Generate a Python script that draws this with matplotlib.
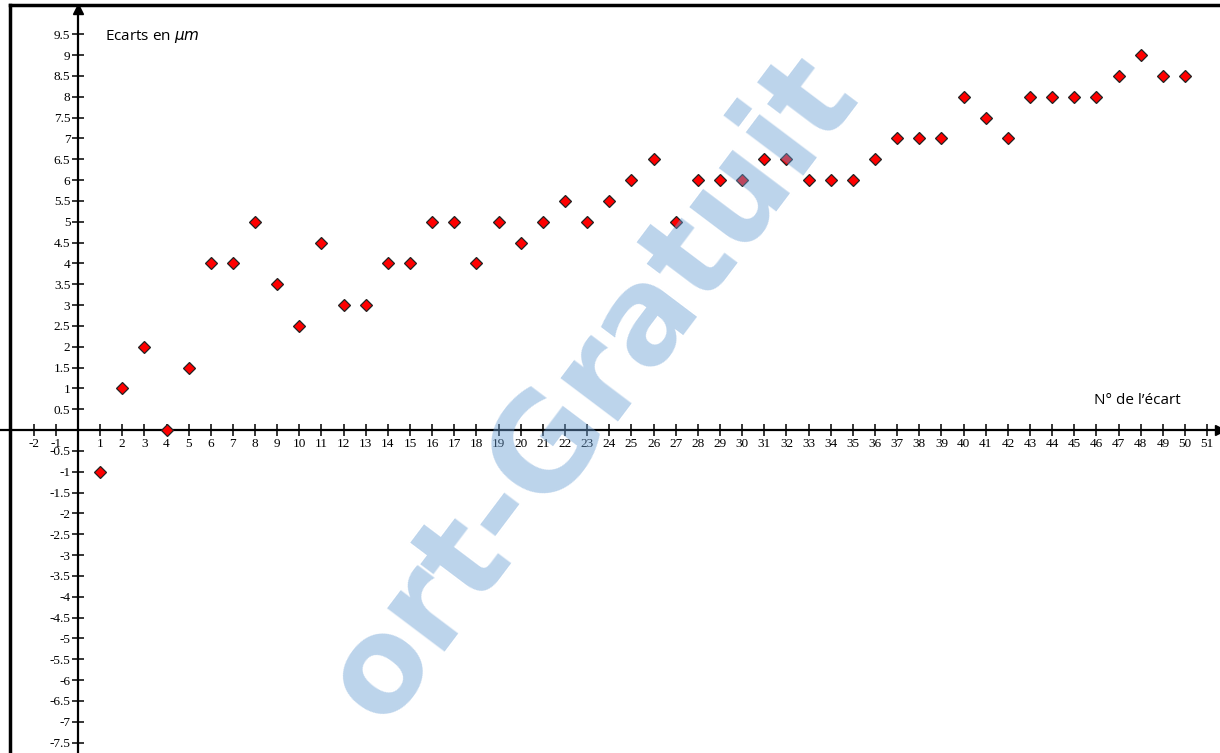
import numpy as np
import matplotlib
matplotlib.use("Agg")
import matplotlib.pyplot as plt
from matplotlib.lines import Line2D

# numero de l'ecart et valeur de l'ecart (micrometres)
num = list(range(1, 51))
ecarts = [-1, 1, 2, 0, 1.5, 4, 4, 5, 3.5, 2.5,
          4.5, 3, 3, 4, 4, 5, 5, 4, 5, 4.5,
          5, 5.5, 5, 5.5, 6, 6.5, 5, 6, 6, 6,
          6.5, 6.5, 6, 6, 6, 6.5, 7, 7, 7, 8,
          7.5, 7, 8, 8, 8, 8, 8.5, 9, 8.5, 8.5]

xticks = [v for v in range(-2, 52) if v != 0]
yticks = [v / 2 for v in range(-15, 20) if v != 0]


def tick_label(v):
    s = "%g" % v
    return s


fig = plt.figure(figsize=(12.2, 7.53), dpi=100)
ax = fig.add_axes([0, 0, 1, 1])
ax.set_xlim(-3.52, 51.58)
ax.set_ylim(-7.75, 10.32)

# axes through origin
ax.spines['left'].set_position(('data', 0))
ax.spines['bottom'].set_position(('data', 0))
ax.spines['right'].set_visible(False)
ax.spines['top'].set_visible(False)
for sp in ('left', 'bottom'):
    ax.spines[sp].set_linewidth(1.6)
ax.spines['left'].set_bounds(-7.75, 10.1)
ax.spines['bottom'].set_bounds(-3.52, 51.4)

ax.set_xticks(xticks)
ax.set_xticklabels([tick_label(v) for v in xticks])
ax.set_yticks(yticks)
ax.set_yticklabels([tick_label(v) for v in yticks])
ax.tick_params(axis='both', direction='inout', length=9, width=1.1,
               labelsize=9.5, pad=1)
for lab in ax.get_xticklabels() + ax.get_yticklabels():
    lab.set_family('Liberation Serif')

# arrows
ax.plot(51.6, 0, marker='>', color='black', markersize=7, clip_on=False)
ax.plot(0, 10.1, marker='^', color='black', markersize=7, clip_on=False)

ax.plot(num, ecarts, linestyle='none', marker='D', markersize=6,
        markerfacecolor='#ff0000', markeredgecolor='#222222',
        markeredgewidth=0.9, zorder=3)

ax.text(1.2, 9.45, r'Ecarts en $\mathit{\mu m}$', fontsize=11, family='Open Sans',
        va='center', ha='left')
ax.text(45.9, 0.72, 'N° de l\u2019écart', fontsize=11, family='Open Sans',
        va='center', ha='left')

# watermark
fig.text(0.485, 0.485, 'ort-Gratuit', fontsize=94, fontweight='bold',
         family='DejaVu Sans', color='#6a9fd4', alpha=0.45,
         rotation=53, ha='center', va='center', zorder=5)

# page frame
fig.add_artist(Line2D([0.008, 0.008], [0, 0.993], transform=fig.transFigure,
                      color='black', linewidth=2.5))
fig.add_artist(Line2D([0.008, 1.0], [0.993, 0.993], transform=fig.transFigure,
                      color='black', linewidth=2.5))

fig.savefig('out.png', dpi=100)
